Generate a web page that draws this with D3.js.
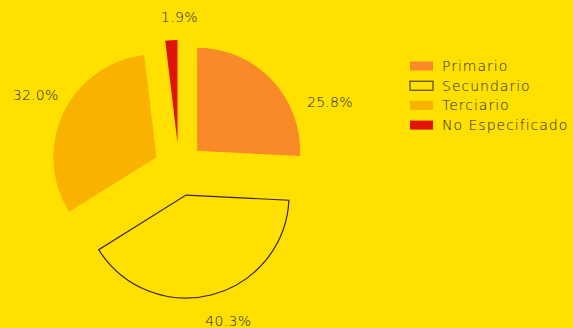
<!DOCTYPE html>
<html>
<head>
<meta charset="utf-8">
<script src="https://cdnjs.cloudflare.com/ajax/libs/d3/7.8.5/d3.min.js"></script>
<style>
  html, body { margin: 0; padding: 0; background: #FFE000; }
  svg text { font-family: "DejaVu Sans", sans-serif; font-weight: 200; fill: #1e1e1e; }
</style>
</head>
<body>
<script>
// chart data
const categories = ["Primario", "Secundario", "Terciario", "No Especificado"];
const shares = [25.8, 40.3, 32.0, 1.9];
const labels = ["25.8%", "40.3%", "32.0%", "1.9%"];

const colors = ["#F98A28", "#FFE000", "#F9B200", "#E0140C"];
const strokes = ["none", "#3a2222", "none", "none"];
const labelNudge = [[35, 44], [9, -2], [1, -4], [10, 9]];

const w = 573, h = 328;
const cx = 179, cy = 168, r = 103, explode = 25;

const svg = d3.select("body").append("svg")
  .attr("width", w).attr("height", h);

const pie = d3.pie().sort(null).value(d => d)(shares);
const arc = d3.arc().innerRadius(0).outerRadius(r);

const g = svg.append("g").attr("transform", `translate(${cx},${cy})`);

const slices = g.selectAll("g.slice")
  .data(pie)
  .enter()
  .append("g")
  .attr("class", "slice")
  .attr("transform", (d, i) => {
    const a = (d.startAngle + d.endAngle) / 2;
    const e = i === 1 ? explode + 3 : explode;
    return `translate(${Math.sin(a) * e},${-Math.cos(a) * e})`;
  });

slices.append("path")
  .attr("d", arc)
  .attr("fill", (d, i) => colors[i])
  .attr("stroke", (d, i) => strokes[i])
  .attr("stroke-width", 1.2);

g.selectAll("text.lbl")
  .data(pie)
  .enter()
  .append("text")
  .attr("class", "lbl")
  .attr("x", (d, i) => Math.sin((d.startAngle + d.endAngle) / 2) * (r + explode + 32) + labelNudge[i][0])
  .attr("y", (d, i) => -Math.cos((d.startAngle + d.endAngle) / 2) * (r + explode + 32) + labelNudge[i][1])
  .attr("text-anchor", "middle")
  .attr("dominant-baseline", "central")
  .style("font-size", "14px")
  .style("letter-spacing", "0.3px")
  .text((d, i) => labels[i]);

// legend
const legend = svg.append("g").attr("transform", "translate(410,66)");
const rows = legend.selectAll("g")
  .data(categories)
  .enter()
  .append("g")
  .attr("transform", (d, i) => `translate(0,${i * 19.7})`);

rows.append("rect")
  .attr("x", 0).attr("y", -4.5)
  .attr("width", 23).attr("height", 9)
  .attr("fill", (d, i) => colors[i])
  .attr("stroke", (d, i) => strokes[i])
  .attr("stroke-width", 1);

rows.append("text")
  .attr("x", 32)
  .attr("y", 0)
  .attr("dominant-baseline", "central")
  .style("font-size", "14px")
  .style("letter-spacing", "1px")
  .text(d => d);
</script>
</body>
</html>
